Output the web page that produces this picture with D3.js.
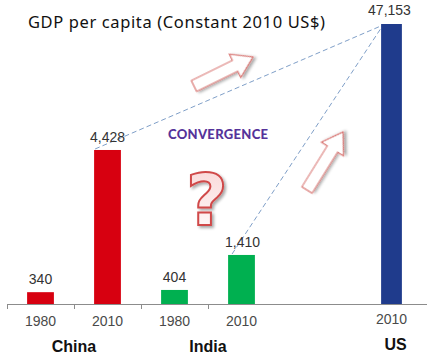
<!DOCTYPE html>
<html><head><meta charset="utf-8">
<script src="https://cdn.jsdelivr.net/npm/d3@7"></script>
<style>html,body{margin:0;padding:0;background:#fff;}</style>
</head><body>
<script>
const categories = ["China 1980","China 2010","India 1980","India 2010"];
const years = ["1980","2010","1980","2010"];
const values = [340, 4428, 404, 1410];
const colors = ["#d70010","#d70010","#00b050","#00b050"];
const usCategory = ["US 2010"];
const usValues = [47153];
const groups = ["China","India","US"];
const title = "GDP per capita (Constant 2010 US$)";

const W = 427, H = 356, base = 304;
const svg = d3.select("body").append("svg").attr("width", W).attr("height", H);
const defs = svg.append("defs");
const g1 = defs.append("linearGradient").attr("id","qg").attr("x1",0).attr("y1",0).attr("x2",0).attr("y2",1);
g1.append("stop").attr("offset","0%").attr("stop-color","#f9d4d4");
g1.append("stop").attr("offset","100%").attr("stop-color","#ffffff");
const f = defs.append("filter").attr("id","sh").attr("x","-30%").attr("y","-30%").attr("width","160%").attr("height","160%");
f.append("feGaussianBlur").attr("in","SourceAlpha").attr("stdDeviation",1.5);
f.append("feOffset").attr("dx",1.5).attr("dy",1.5).attr("result","b");
f.append("feComponentTransfer").append("feFuncA").attr("type","linear").attr("slope",0.35);
const m = f.append("feMerge"); m.append("feMergeNode"); m.append("feMergeNode").attr("in","SourceGraphic");

const y = d3.scaleLinear().domain([0, 8050]).range([base, 24]).clamp(true);
const x = d3.scaleBand().domain(categories).range([7, 275]).paddingInner(0.6).paddingOuter(0.3);
const xu = d3.scaleBand().domain(usCategory).range([358, 425]).paddingInner(0.69).paddingOuter(0.345);

// title
svg.append("text").attr("x", 28).attr("y", 28).attr("font-family","Noto Sans, sans-serif")
  .attr("font-size", 16.5).attr("fill","#111").attr("textLength", 297).text(title);

// dashed convergence lines
const usTop = [xu(usCategory[0]) + 2, y(usValues[0]) + 1];
[[x(categories[1]) + 1, y(values[1]) - 1],[x(categories[3]) + 4, y(values[3]) - 1]].forEach(p => {
  svg.append("line").attr("x1", p[0]).attr("y1", p[1]).attr("x2", usTop[0]).attr("y2", usTop[1])
    .attr("stroke","#7f9fc8").attr("stroke-width",1).attr("stroke-dasharray","5,3");
});

// bars
svg.selectAll("rect.b").data(categories).enter().append("rect")
  .attr("x", d => x(d)).attr("width", x.bandwidth())
  .attr("y", (d,i) => y(values[i])).attr("height", (d,i) => base - y(values[i]))
  .attr("fill", (d,i) => colors[i]);
svg.selectAll("rect.u").data(usCategory).enter().append("rect")
  .attr("x", d => xu(d)).attr("width", xu.bandwidth())
  .attr("y", (d,i) => y(usValues[i])).attr("height", (d,i) => base - y(usValues[i]))
  .attr("fill", "#1f3b8c");

// value labels
const fmt = d3.format(",");
svg.selectAll("text.v").data(categories).enter().append("text")
  .attr("x", (d,i) => x(d) + x.bandwidth()/2 + (i === 3 ? 1 : 0)).attr("y", (d,i) => y(values[i]) - 8)
  .attr("text-anchor","middle").attr("font-family","Liberation Sans, Arial, sans-serif")
  .attr("font-size", 14).attr("fill","#333").text((d,i) => fmt(values[i]));
svg.append("text").attr("x", xu(usCategory[0]) + xu.bandwidth()/2 - 2).attr("y", y(usValues[0]) - 9)
  .attr("text-anchor","middle").attr("font-family","Liberation Sans, Arial, sans-serif")
  .attr("font-size", 14).attr("fill","#333").text(fmt(usValues[0]));

// axis
svg.append("line").attr("x1", 7).attr("x2", W).attr("y1", base + 0.5).attr("y2", base + 0.5)
  .attr("stroke","#8c8c8c").attr("stroke-width",1);
const step = x.step();
[0,1,2,3].forEach(i => {
  const tx = Math.round(x(categories[i]) - x.paddingInner()*step/2) + 0.5;
  svg.append("line").attr("x1", tx).attr("x2", tx).attr("y1", base).attr("y2", base + 5)
    .attr("stroke","#8c8c8c");
});
svg.selectAll("text.yr").data(categories).enter().append("text")
  .attr("x", d => x(d) + x.bandwidth()/2).attr("y", 326)
  .attr("text-anchor","middle").attr("font-family","Liberation Sans, Arial, sans-serif")
  .attr("font-size", 14).attr("fill","#4a4a4a").text((d,i) => years[i]);
svg.append("text").attr("x", xu(usCategory[0]) + xu.bandwidth()/2).attr("y", 324)
  .attr("text-anchor","middle").attr("font-family","Liberation Sans, Arial, sans-serif")
  .attr("font-size", 14).attr("fill","#4a4a4a").text("2010");

// group labels
const gx = [x(categories[0]) + (x(categories[1]) - x(categories[0]))/2 + x.bandwidth()/2,
            x(categories[2]) + (x(categories[3]) - x(categories[2]))/2 + x.bandwidth()/2,
            xu(usCategory[0]) + xu.bandwidth()/2 + 4];
groups.forEach((gname, i) => {
  svg.append("text").attr("x", gx[i]).attr("y", i === 2 ? 350 : 352).attr("text-anchor","middle")
    .attr("font-family","Liberation Sans, Arial, sans-serif").attr("font-weight","bold")
    .attr("font-size", 16).attr("fill","#111").text(gname);
});

// CONVERGENCE
svg.append("text").attr("x", 168).attr("y", 139).attr("font-family","Lato, Open Sans, sans-serif")
  .attr("font-weight","900").attr("font-size", 13).attr("fill","#55339a")
  .attr("textLength", 100).text("CONVERGENCE");

// hollow arrows
function arrow(tx, ty, hx, hy) {
  const L = Math.hypot(hx - tx, hy - ty), a = Math.atan2(hy - ty, hx - tx) * 180 / Math.PI;
  const bw = 6, hw = 13, hl = 20;
  const pts = [[0,-bw],[L-hl,-bw],[L-hl,-hw],[L,0],[L-hl,hw],[L-hl,bw],[0,bw]];
  svg.append("path").attr("d", "M" + pts.map(p => p.join(",")).join("L") + "Z")
    .attr("transform", `translate(${tx},${ty}) rotate(${a})`)
    .attr("fill","#fff").attr("stroke","#d9726f").attr("stroke-width",1.2)
    .attr("filter","url(#sh)");
}
arrow(194, 86, 253, 57);
arrow(307, 190, 343, 132);

// question mark
svg.append("text").attr("x", 207).attr("y", 225).attr("text-anchor","middle")
  .attr("font-family","DejaVu Sans, sans-serif").attr("font-weight","bold").attr("font-size", 72)
  .attr("fill","url(#qg)").attr("stroke","#d04a4a").attr("stroke-width",2)
  .attr("filter","url(#sh)").text("?");
</script>
</body></html>
